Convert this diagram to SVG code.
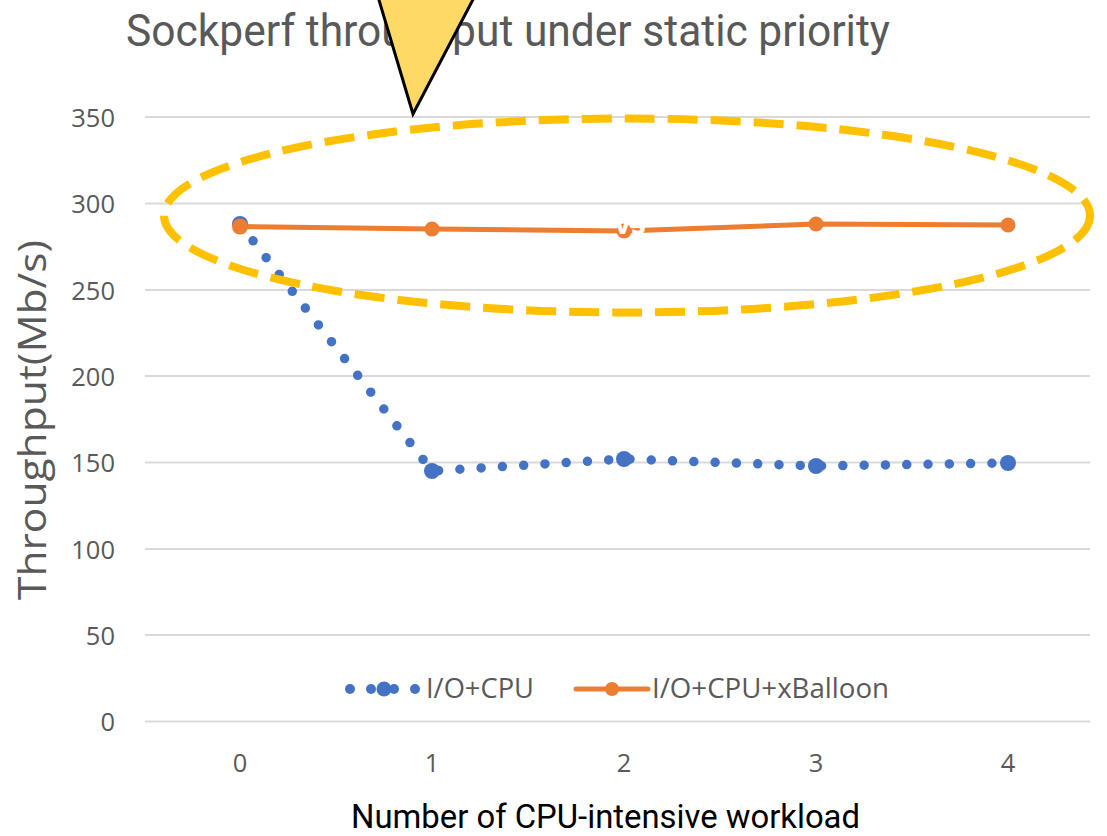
<svg xmlns="http://www.w3.org/2000/svg" width="1107" height="836" viewBox="0 0 1107 836">
<style>
.grid{stroke:#D9D9D9;stroke-width:2;}
.tick{font-family:"Open Sans","Liberation Sans",sans-serif;font-size:25.5px;fill:#595959;}
.ytick{text-anchor:end;}
.xtick{text-anchor:middle;}
.blue{fill:#4472C4;}
.orange{fill:#ED7D31;}
.leg{font-family:"Open Sans","Liberation Sans",sans-serif;font-size:27.5px;fill:#595959;}
</style>
<rect width="1107" height="836" fill="#FFFFFF"/>
<g id="title">
<text x="126" y="46" font-family="Roboto,'Liberation Sans',sans-serif" font-size="44" fill="#595959" textLength="764" lengthAdjust="spacingAndGlyphs">Sockperf throughput under static priority</text>
</g>
<g id="gridlines">
<line class="grid" x1="145" y1="117" x2="1090" y2="117"/>
<line class="grid" x1="145" y1="203.5" x2="1090" y2="203.5"/>
<line class="grid" x1="145" y1="290" x2="1090" y2="290"/>
<line class="grid" x1="145" y1="376" x2="1090" y2="376"/>
<line class="grid" x1="145" y1="462.5" x2="1090" y2="462.5"/>
<line class="grid" x1="145" y1="549" x2="1090" y2="549"/>
<line class="grid" x1="145" y1="635" x2="1090" y2="635"/>
<line class="grid" x1="145" y1="721.5" x2="1090" y2="721.5"/>
</g>
<g id="y-axis">
<text class="tick ytick" x="115" y="127">350</text>
<text class="tick ytick" x="115" y="213">300</text>
<text class="tick ytick" x="115" y="300">250</text>
<text class="tick ytick" x="115" y="386">200</text>
<text class="tick ytick" x="115" y="472">150</text>
<text class="tick ytick" x="115" y="559">100</text>
<text class="tick ytick" x="115" y="645">50</text>
<text class="tick ytick" x="115" y="731">0</text>
<text transform="translate(46,420) rotate(-90)" text-anchor="middle" font-family="'Open Sans','Liberation Sans',sans-serif" font-size="38" fill="#595959" textLength="360" lengthAdjust="spacingAndGlyphs">Throughput(Mb/s)</text>
</g>
<g id="x-axis">
<text class="tick xtick" x="240" y="772">0</text>
<text class="tick xtick" x="432" y="772">1</text>
<text class="tick xtick" x="624" y="772">2</text>
<text class="tick xtick" x="816" y="772">3</text>
<text class="tick xtick" x="1008" y="772">4</text>
<text x="351" y="828" font-family="Roboto,'Liberation Sans',sans-serif" font-size="34" fill="#000000" textLength="509" lengthAdjust="spacingAndGlyphs">Number of CPU-intensive workload</text>
</g>
<g id="connectors">
<path id="series-io-cpu" d="M240,224 L432,471 L624,459 L816,466 L1008,463" fill="none" stroke="#4472C4" stroke-width="9.5" stroke-linecap="round" stroke-dasharray="0 21.3"/>
<path id="series-io-cpu-xballoon" d="M240,226.5 L432,229 L624,231 L816,224 L1008,225" fill="none" stroke="#ED7D31" stroke-width="5" stroke-linejoin="round"/>
</g>
<g id="markers-io-cpu">
<circle class="blue" cx="240" cy="224" r="8"/>
<circle class="blue" cx="432" cy="471" r="8"/>
<circle class="blue" cx="624" cy="459" r="8"/>
<circle class="blue" cx="816" cy="466" r="8"/>
<circle class="blue" cx="1008" cy="463" r="8"/>
</g>
<g id="markers-io-cpu-xballoon">
<circle class="orange" cx="240" cy="226.5" r="8"/>
<circle class="orange" cx="432" cy="229" r="7.5"/>
<circle class="orange" cx="624" cy="231" r="7.5"/>
<circle class="orange" cx="816" cy="224" r="7.5"/>
<circle class="orange" cx="1008" cy="225" r="7.5"/>
</g>
<g id="white-label">
<text x="630" y="234" text-anchor="middle" font-family="'Open Sans','Liberation Sans',sans-serif" font-weight="bold" font-size="30" fill="#FFFFFF">vs</text>
</g>
<g id="legend">
<g id="legend-io-cpu">
<circle class="blue" cx="350" cy="689" r="5"/>
<circle class="blue" cx="371" cy="689" r="5"/>
<circle class="blue" cx="384" cy="689" r="7.5"/>
<circle class="blue" cx="394" cy="689" r="5"/>
<circle class="blue" cx="415" cy="689" r="5"/>
<text class="leg" x="426" y="698" textLength="108" lengthAdjust="spacingAndGlyphs">I/O+CPU</text>
</g>
<g id="legend-io-cpu-xballoon">
<line x1="576" y1="689" x2="648" y2="689" stroke="#ED7D31" stroke-width="5" stroke-linecap="round"/>
<circle class="orange" cx="612" cy="689" r="7"/>
<text class="leg" x="652" y="698" textLength="237" lengthAdjust="spacingAndGlyphs">I/O+CPU+xBalloon</text>
</g>
</g>
<g id="highlight-ellipse">
<ellipse cx="627" cy="215.5" rx="463" ry="97" fill="none" stroke="#FFC000" stroke-width="8" stroke-dasharray="30 13"/>
</g>
<g id="callout">
<polygon points="376,-10 478,-10 413,114" fill="#FFD966" stroke="#000000" stroke-width="3" stroke-linejoin="miter"/>
</g>
</svg>
